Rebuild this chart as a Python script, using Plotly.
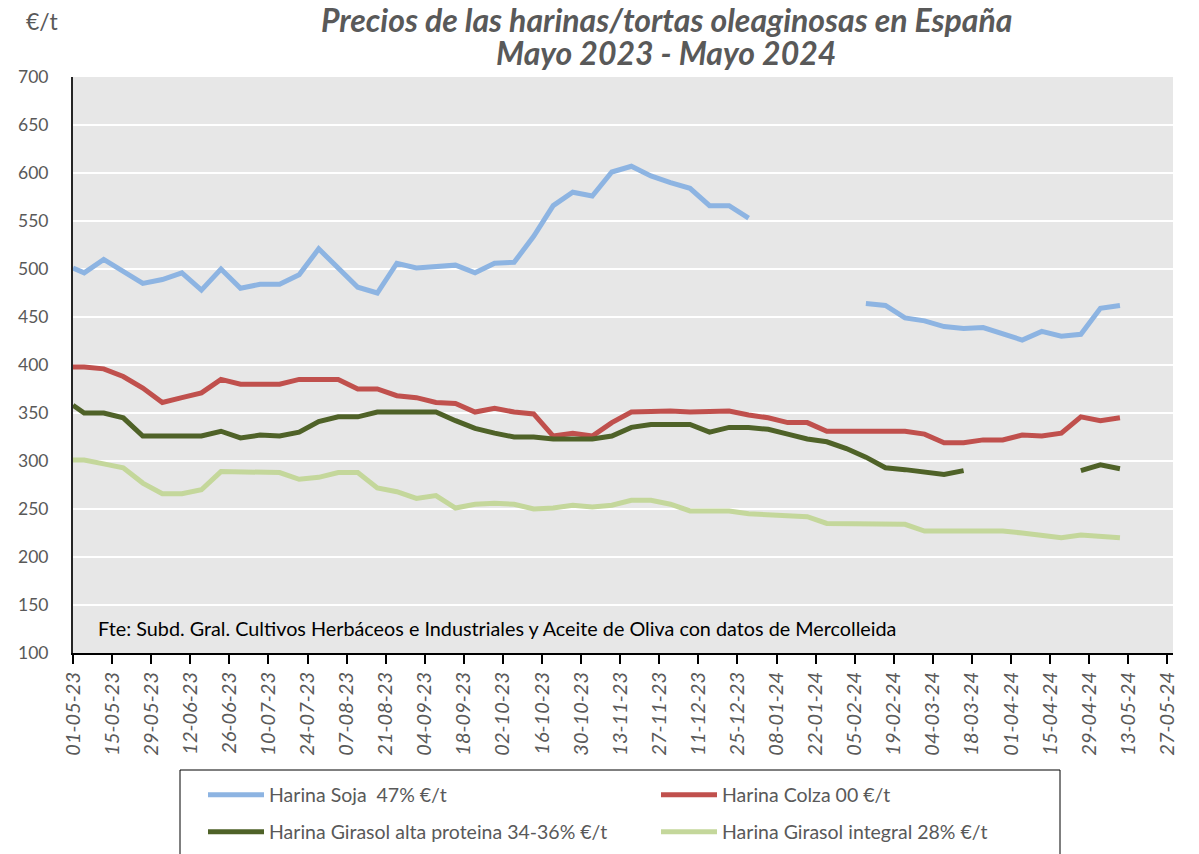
import pandas as pd
import plotly.graph_objects as go

# ---- data ----
dates = ["2023-05-01"] + [d.strftime("%Y-%m-%d") for d in pd.date_range("2023-05-05", periods=54, freq="7D")]

soja = [501, 496, 510, 498, 485, 489, 496, 478, 500, 480, 484, 484, 494, 521, 501, 481, 475,
        506, 501, 502, 504, 496, 506, 507, 534, 566, 580, 576, 601, 607, 597, 590, 584, 566,
        566, 553, None, None, None, None, None, 464, 462, 449, 446, 440, 438, 439, 432, 426,
        435, 430, 432, 459, 462]
colza = [398, 398, 396, 388, 376, 361, 366, 371, 385, 380, 380, 380, 385, 385, 385, 375, 375,
         368, 366, 361, 360, 351, 355, 351, 349, 326, 329, 326, 340, 351, 352, 352, 351, 352,
         352, 348, 345, 340, 340, 331, 331, 332, 332, 331, 328, 319, 319, 322, 322, 327, 326,
         329, 346, 342, 345]
girasol_alta = [358, 350, 350, 345, 326, 326, 326, 326, 331, 324, 327, 326, 330, 341, 346, 346,
                351, 351, 351, 351, 342, 334, 329, 325, 325, 323, 323, 323, 326, 335, 338, 338,
                338, 330, 335, 335, 333, 328, 323, 320, 313, 304, 293, 291, 288, 286, 290,
                None, None, None, None, None, 290, 296, 292]
girasol_integral = [301, 301, 297, 293, 277, 266, 266, 270, 289, 289, 289, 288, 281, 283, 288,
                    288, 272, 268, 261, 264, 251, 255, 256, 255, 250, 251, 254, 252, 254, 259,
                    259, 255, 248, 248, 248, 245, 244, 242, 242, 235, 235, 235, 235, 234, 227,
                    227, 227, 227, 227, 225, 222, 220, 223, 221, 220]

series_names = ["Harina Soja\u00a0 47% €/t", "Harina Colza 00 €/t",
                "Harina Girasol alta proteina 34-36% €/t", "Harina Girasol integral 28% €/t"]
series_values = [soja, colza, girasol_alta, girasol_integral]
series_colors = ["#8DB4E2", "#C0504D", "#4F6228", "#C4D79B"]
series_legend = ["legend", "legend", "legend2", "legend2"]

title_lines = ["Precios de las harinas/tortas oleaginosas en España", "Mayo 2023 - Mayo 2024"]
source_text = "Fte: Subd. Gral. Cultivos Herbáceos e Industriales y Aceite de Oliva con datos de Mercolleida"

FONT = "Lato"
GREY = "#595959"
L, R, T, B = 73, 26, 77, 201
W, H = 1199, 854
PW, PH = W - L - R, H - T - B


def px_x(px):
    return (px - L) / PW


def px_y(py):
    return (H - B - py) / PH


fig = go.Figure()
for name, vals, col, lg in zip(series_names, series_values, series_colors, series_legend):
    fig.add_trace(go.Scatter(x=dates, y=vals, mode="lines", name=name, legend=lg,
                             line=dict(color=col, width=5), connectgaps=False))

leg_common = dict(orientation="h", xanchor="left", yanchor="middle", entrywidth=382,
                  itemwidth=56, bgcolor="rgba(0,0,0,0)", borderwidth=0,
                  font=dict(family=FONT, size=19.5, color=GREY))

fig.update_layout(
    width=W, height=H,
    margin=dict(l=L, r=R, t=T, b=B, autoexpand=False),
    paper_bgcolor="white", plot_bgcolor="#E7E7E7",
    font=dict(family=FONT, color=GREY, size=16),
    showlegend=True,
    legend=dict(x=px_x(203), y=px_y(795), **leg_common),
    legend2=dict(x=px_x(203), y=px_y(832), **leg_common),
)
fig.update_xaxes(
    type="date", range=["2023-05-01", "2024-05-29"], automargin=False,
    tick0="2023-05-01", dtick=14 * 86400000, tickformat="%d-%m-%y",
    tickangle=-90, tickfont=dict(family=FONT, size=20, color=GREY, style="italic"),
    showgrid=False, showline=True, linecolor="#000000", linewidth=2,
    ticks="outside", ticklen=9, tickcolor="#000000", tickwidth=1.5, zeroline=False,
)
fig.update_yaxes(
    range=[100, 700], dtick=50, tick0=100, automargin=False,
    tickfont=dict(family=FONT, size=17.5, color=GREY),
    showgrid=True, gridcolor="#FFFFFF", gridwidth=2,
    showline=True, linecolor="#262626", linewidth=2,
    ticks="", zeroline=False, ticklabelstandoff=19,
)

# legend frame
fig.add_shape(type="rect", xref="paper", yref="paper",
              x0=px_x(180), x1=px_x(1060), y0=px_y(870), y1=px_y(770),
              line=dict(color="#000000", width=1), fillcolor="rgba(0,0,0,0)")

fig.add_annotation(xref="paper", yref="paper", x=px_x(666), y=px_y(19),
                   xanchor="center", yanchor="middle", showarrow=False,
                   text="<b><i>" + title_lines[0] + "</i></b>",
                   font=dict(family=FONT, size=32, color=GREY))
fig.add_annotation(xref="paper", yref="paper", x=px_x(666), y=px_y(53),
                   xanchor="center", yanchor="middle", showarrow=False,
                   text="<b><i>" + title_lines[1] + "</i></b>",
                   font=dict(family=FONT, size=32, color=GREY))
fig.add_annotation(xref="paper", yref="paper", x=px_x(24), xanchor="left", y=px_y(21),
                   yanchor="middle", showarrow=False, text="€/t",
                   font=dict(family=FONT, size=23, color=GREY))
fig.add_annotation(xref="paper", yref="paper", x=px_x(96), xanchor="left",
                   y=px_y(628), yanchor="middle", showarrow=False,
                   text=source_text, font=dict(family=FONT, size=19.8, color="#000000"))

fig.write_html("out.html", config={"displayModeBar": False},
               post_script="document.body.style.margin='0px';document.body.style.padding='0px';")
